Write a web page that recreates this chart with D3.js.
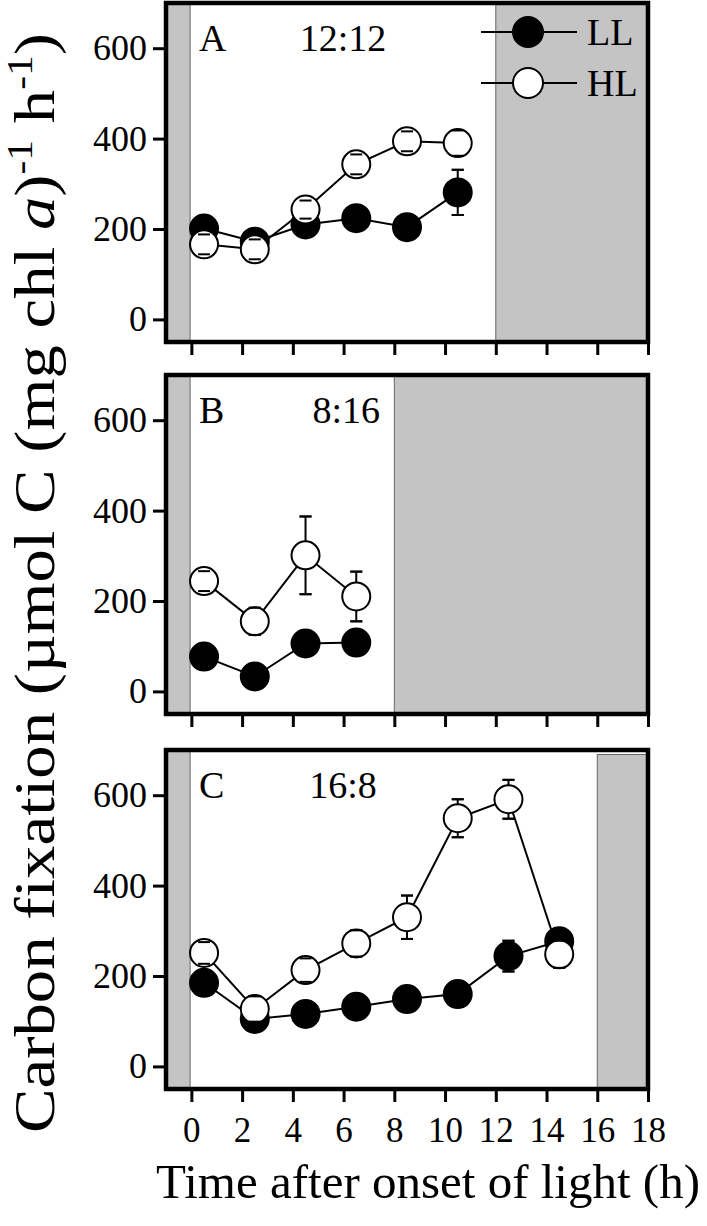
<!DOCTYPE html>
<html>
<head>
<meta charset="utf-8">
<script src="https://cdn.jsdelivr.net/npm/d3@7"></script>
<style>
  body { margin: 0; background: #fff; }
  svg, svg text { font-family: "Times New Roman", Times, "Liberation Serif", "Nimbus Roman", serif; }
</style>
</head>
<body>
<div id="chart"></div>
<script>
// sampling times (h after onset of light)
const timesA = [0.5, 2.5, 4.5, 6.5, 8.5, 10.5];
const timesB = [0.5, 2.5, 4.5, 6.5];
const timesC = [0.5, 2.5, 4.5, 6.5, 8.5, 10.5, 12.5, 14.5];

// A: 12:12
const llA = [201, 172, 210, 224, 204, 281];
const llErrA = [10, 12, 12, 8, 8, 50];
const hlA = [166, 155, 243, 343, 394, 390];
const hlErrA = [22, 22, 20, 22, 22, 28];

// B: 8:16
const llB = [77, 33, 106, 108];
const llErrB = [8, 8, 8, 8];
const hlB = [244, 155, 301, 210];
const hlErrB = [22, 30, 86, 55];

// C: 16:8
const llC = [185, 105, 116, 132, 149, 160, 244, 277];
const llErrC = [10, 10, 10, 10, 10, 10, 34, 26];
const hlC = [251, 127, 213, 272, 330, 549, 591, 248];
const hlErrC = [24, 28, 26, 29, 48, 42, 43, 30];

const panelLabels = ['A', 'B', 'C'];
const cycleLabels = ['12:12', '8:16', '16:8'];
const darkEnd = [12, 8, 16];      // start of the dark period
const seriesNames = ['LL', 'HL'];
const xTicks = [0, 2, 4, 6, 8, 10, 12, 14, 16, 18];
const yTicks = [0, 200, 400, 600];

const width = 707, height = 1226;
const left = 166, right = 648;
const panelH = 339;
const tops = [3, 375, 750];
const serif = '"Times New Roman", Times, "Liberation Serif", serif';

const svg = d3.select('#chart').append('svg')
  .attr('width', width)
  .attr('height', height);

const x = d3.scaleLinear().domain([-1, 18]).range([left, right]);

const panels = [
  { t: timesA, ll: llA, llE: llErrA, hl: hlA, hlE: hlErrA },
  { t: timesB, ll: llB, llE: llErrB, hl: hlB, hlE: hlErrB },
  { t: timesC, ll: llC, llE: llErrC, hl: hlC, hlE: hlErrC }
];

panels.forEach((p, i) => {
  const top = tops[i];
  const y = d3.scaleLinear().domain([-50, 700]).range([top + panelH, top]);
  const g = svg.append('g');

  // dark periods
  g.append('rect')
    .attr('x', x(-1)).attr('y', y(700))
    .attr('width', x(-0.05) - x(-1)).attr('height', y(-50) - y(700))
    .attr('fill', '#c4c4c4').attr('stroke', '#666').attr('stroke-width', 1);
  const darkTop = i === 2 ? 690 : 700;
  g.append('rect')
    .attr('x', x(darkEnd[i])).attr('y', y(darkTop))
    .attr('width', x(18) - x(darkEnd[i])).attr('height', y(-50) - y(darkTop))
    .attr('fill', '#c4c4c4').attr('stroke', '#666').attr('stroke-width', 1);

  // axes
  const xAxis = d3.axisBottom(x).tickValues(xTicks).tickSize(13).tickSizeOuter(0)
    .tickFormat(i === 2 ? d3.format('d') : '');
  const xg = g.append('g').attr('transform', `translate(0,${top + panelH})`).call(xAxis);
  xg.attr('font-family', serif);
  xg.select('.domain').remove();
  xg.selectAll('.tick line').attr('stroke', '#000').attr('stroke-width', 3);
  xg.selectAll('.tick text').attr('font-size', 35)
    .attr('fill', '#000').attr('y', 28).attr('dy', '0.71em');

  const yAxis = d3.axisLeft(y).tickValues(yTicks).tickSize(13).tickSizeOuter(0);
  const yg = g.append('g').attr('transform', `translate(${left},0)`).call(yAxis);
  yg.attr('font-family', serif);
  yg.select('.domain').remove();
  yg.selectAll('.tick line').attr('stroke', '#000').attr('stroke-width', 3);
  yg.selectAll('.tick text').attr('font-size', 36)
    .attr('fill', '#000').attr('x', -19);

  // frame
  g.append('rect')
    .attr('x', left).attr('y', top)
    .attr('width', right - left).attr('height', panelH)
    .attr('fill', 'none').attr('stroke', '#000').attr('stroke-width', 4.5);

  // labels
  g.append('text').attr('x', 199).attr('y', top + 48)
    .attr('font-size', 38).text(panelLabels[i]);
  g.append('text').attr('x', i === 1 ? 380 : 343).attr('y', top + 48)
    .attr('text-anchor', i === 1 ? 'end' : 'middle')
    .attr('font-size', 38).text(cycleLabels[i]);

  const line = d3.line().x(d => x(d[0])).y(d => y(d[1]));
  const sets = [
    { v: p.ll, e: p.llE, fill: '#000' },
    { v: p.hl, e: p.hlE, fill: '#fff' }
  ];
  sets.forEach(s => {
    const pts = p.t.map((t, k) => [t, s.v[k], s.e[k]]);
    g.append('path').datum(pts).attr('d', line)
      .attr('fill', 'none').attr('stroke', '#000').attr('stroke-width', 2);

    // error bars under the markers
    const eb = g.selectAll(null).data(pts).enter().append('g')
      .attr('stroke', '#000').attr('stroke-width', 2);
    eb.append('line')
      .attr('x1', d => x(d[0])).attr('x2', d => x(d[0]))
      .attr('y1', d => y(d[1] - d[2])).attr('y2', d => y(d[1] + d[2]));
    eb.append('line')
      .attr('x1', d => x(d[0]) - 6).attr('x2', d => x(d[0]) + 6)
      .attr('y1', d => y(d[1] + d[2])).attr('y2', d => y(d[1] + d[2]));
    eb.append('line')
      .attr('x1', d => x(d[0]) - 6).attr('x2', d => x(d[0]) + 6)
      .attr('y1', d => y(d[1] - d[2])).attr('y2', d => y(d[1] - d[2]));

    g.selectAll(null).data(pts).enter().append('circle')
      .attr('cx', d => x(d[0])).attr('cy', d => y(d[1])).attr('r', 14)
      .attr('fill', s.fill).attr('stroke', '#000').attr('stroke-width', 2);

    // caps stay visible on top of the markers
    const caps = g.selectAll(null).data(pts).enter().append('g')
      .attr('stroke', '#000').attr('stroke-width', 2);
    caps.append('line')
      .attr('x1', d => x(d[0]) - 6).attr('x2', d => x(d[0]) + 6)
      .attr('y1', d => y(d[1] + d[2])).attr('y2', d => y(d[1] + d[2]));
    caps.append('line')
      .attr('x1', d => x(d[0]) - 6).attr('x2', d => x(d[0]) + 6)
      .attr('y1', d => y(d[1] - d[2])).attr('y2', d => y(d[1] - d[2]));
  });
});

// legend
const legend = svg.append('g').attr('transform', 'translate(481,32)');
seriesNames.forEach((name, k) => {
  const lg = legend.append('g').attr('transform', `translate(0,${k * 51})`);
  lg.append('line').attr('x1', 0).attr('x2', 96).attr('y1', 0).attr('y2', 0)
    .attr('stroke', '#000').attr('stroke-width', 2);
  lg.append('circle').attr('cx', 47).attr('cy', 0).attr('r', 15)
    .attr('fill', k === 0 ? '#000' : '#fff').attr('stroke', '#000').attr('stroke-width', 2);
  lg.append('text').attr('x', 106).attr('y', 13).attr('font-size', 38).text(name);
});

// axis titles
svg.append('text')
  .attr('x', 428).attr('y', 1198)
  .attr('text-anchor', 'middle')
  .attr('font-size', 49)
  .text('Time after onset of light (h)');

const yt = svg.append('text')
  .attr('transform', 'translate(54,583) rotate(-90)')
  .attr('text-anchor', 'middle')
  .attr('font-size', 58)
  .attr('textLength', 1100)
  .attr('lengthAdjust', 'spacingAndGlyphs');
yt.append('tspan').text('Carbon fixation (\u00b5mol C (mg chl ');
yt.append('tspan').attr('font-style', 'italic').text('a');
yt.append('tspan').text(')');
yt.append('tspan').attr('font-size', 36).attr('dy', -22).text('-1');
yt.append('tspan').attr('dy', 22).text(' h');
yt.append('tspan').attr('font-size', 36).attr('dy', -22).text('-1');
yt.append('tspan').attr('dy', 22).text(')');
</script>
</body>
</html>
